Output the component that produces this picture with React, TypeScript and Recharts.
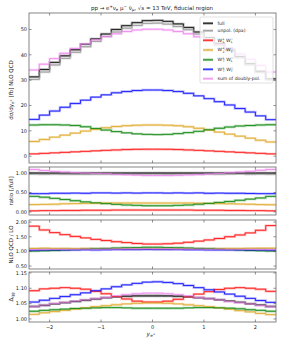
import React from 'react';
import { LineChart, Line, XAxis, YAxis } from 'recharts';

// bin edges in y_e+ (0.2 wide), values are per bin
const binEdges = [-2.4, -2.2, -2.0, -1.8, -1.6, -1.4, -1.2, -1.0, -0.8, -0.6, -0.4, -0.2, 0, 0.2, 0.4, 0.6, 0.8, 1.0, 1.2, 1.4, 1.6, 1.8, 2.0, 2.2, 2.4];
const xTicks = [-2, -1, 0, 1, 2];

// dsigma/dy [fb], NLO QCD
const xsecFull = [31.3, 34.2, 37.0, 39.6, 42.0, 44.2, 46.3, 48.2, 50.0, 51.5, 52.7, 53.5, 53.6, 53.2, 52.2, 50.8, 49.0, 46.8, 44.5, 42.0, 39.3, 36.5, 33.5, 30.5];
const xsecUnpol = [30.3, 33.2, 36.0, 38.6, 41.0, 43.2, 45.3, 47.2, 49.0, 50.5, 51.6, 52.4, 52.5, 52.1, 51.2, 49.9, 48.2, 46.1, 43.8, 41.4, 38.8, 36.0, 33.0, 30.1];
const xsecLL = [0.9, 1.1, 1.3, 1.5, 1.7, 1.9, 2.1, 2.3, 2.45, 2.6, 2.7, 2.75, 2.75, 2.7, 2.6, 2.45, 2.3, 2.1, 1.9, 1.7, 1.5, 1.3, 1.1, 0.9];
const xsecLT = [5.8, 6.6, 7.5, 8.3, 9.1, 9.9, 10.6, 11.2, 11.7, 12.0, 12.2, 12.3, 12.3, 12.2, 12.0, 11.6, 11.0, 10.3, 9.5, 8.7, 7.9, 7.1, 6.3, 5.6];
const xsecTL = [12.3, 12.4, 12.4, 12.3, 12.1, 11.6, 10.9, 10.3, 9.7, 9.2, 8.8, 8.6, 8.5, 8.6, 8.9, 9.3, 9.8, 10.4, 11.0, 11.5, 11.9, 12.1, 12.3, 12.4];
const xsecTT = [14.5, 16.2, 17.8, 19.3, 20.8, 22.1, 23.3, 24.2, 25.0, 25.5, 25.9, 26.1, 26.1, 25.9, 25.5, 24.8, 23.8, 22.7, 21.5, 20.2, 18.8, 17.4, 15.9, 14.4];
const xsecSum = [34.0, 36.3, 38.5, 40.6, 42.5, 44.3, 45.9, 47.2, 48.3, 49.2, 49.8, 50.1, 50.1, 49.8, 49.2, 48.3, 47.1, 45.7, 44.1, 42.3, 40.3, 38.2, 35.8, 33.2];

// ratio to full
const ratioFull = [1, 1, 1, 1, 1, 1, 1, 1, 1, 1, 1, 1, 1, 1, 1, 1, 1, 1, 1, 1, 1, 1, 1, 1];
const ratioUnpol = [0.975, 0.97, 0.975, 0.97, 0.965, 0.965, 0.97, 0.97, 0.965, 0.97, 0.97, 0.975, 0.975, 0.97, 0.975, 0.975, 0.97, 0.975, 0.97, 0.975, 0.98, 0.97, 0.975, 0.97];
const ratioLL = [0.03, 0.035, 0.035, 0.04, 0.04, 0.045, 0.045, 0.045, 0.05, 0.05, 0.05, 0.05, 0.05, 0.05, 0.05, 0.05, 0.045, 0.045, 0.045, 0.04, 0.04, 0.035, 0.035, 0.03];
const ratioLT = [0.19, 0.195, 0.2, 0.21, 0.215, 0.22, 0.225, 0.23, 0.23, 0.23, 0.23, 0.23, 0.23, 0.23, 0.23, 0.23, 0.225, 0.22, 0.215, 0.21, 0.205, 0.2, 0.19, 0.185];
const ratioTL = [0.4, 0.38, 0.35, 0.32, 0.29, 0.26, 0.235, 0.215, 0.195, 0.18, 0.17, 0.16, 0.16, 0.16, 0.17, 0.18, 0.2, 0.22, 0.245, 0.27, 0.3, 0.33, 0.36, 0.4];
const ratioTT = [0.47, 0.47, 0.48, 0.48, 0.485, 0.48, 0.49, 0.49, 0.485, 0.49, 0.485, 0.49, 0.49, 0.485, 0.49, 0.485, 0.49, 0.48, 0.485, 0.48, 0.48, 0.475, 0.47, 0.47];
const ratioSum = [1.09, 1.065, 1.04, 1.025, 1.01, 1.0, 0.99, 0.98, 0.965, 0.955, 0.945, 0.935, 0.935, 0.935, 0.94, 0.95, 0.96, 0.975, 0.99, 1.005, 1.025, 1.045, 1.07, 1.09];

// NLO QCD / LO
const kUnpol = [1.08, 1.085, 1.08, 1.09, 1.085, 1.09, 1.085, 1.09, 1.09, 1.095, 1.09, 1.095, 1.095, 1.09, 1.095, 1.09, 1.09, 1.085, 1.09, 1.085, 1.085, 1.08, 1.085, 1.08];
const kLL = [1.86, 1.73, 1.64, 1.57, 1.51, 1.46, 1.41, 1.37, 1.33, 1.3, 1.27, 1.25, 1.25, 1.26, 1.28, 1.31, 1.35, 1.39, 1.44, 1.5, 1.56, 1.63, 1.72, 1.88];
const kLT = [1.1, 1.11, 1.1, 1.1, 1.095, 1.1, 1.09, 1.09, 1.085, 1.08, 1.08, 1.08, 1.08, 1.08, 1.085, 1.085, 1.09, 1.09, 1.095, 1.1, 1.1, 1.105, 1.11, 1.11];
const kTL = [1.01, 1.02, 1.03, 1.045, 1.06, 1.075, 1.09, 1.1, 1.115, 1.125, 1.13, 1.14, 1.14, 1.13, 1.125, 1.115, 1.1, 1.09, 1.075, 1.06, 1.045, 1.03, 1.02, 1.01];
const kTT = [1.04, 1.045, 1.05, 1.05, 1.05, 1.055, 1.05, 1.055, 1.06, 1.06, 1.06, 1.065, 1.06, 1.06, 1.06, 1.055, 1.055, 1.05, 1.05, 1.05, 1.05, 1.045, 1.045, 1.04];
const kSum = [1.06, 1.065, 1.07, 1.07, 1.07, 1.075, 1.075, 1.08, 1.08, 1.085, 1.085, 1.085, 1.085, 1.085, 1.08, 1.08, 1.08, 1.075, 1.075, 1.07, 1.07, 1.07, 1.065, 1.06];

// Delta_qg
const dFull = [1.04, 1.044, 1.049, 1.053, 1.057, 1.061, 1.065, 1.069, 1.072, 1.074, 1.075, 1.075, 1.075, 1.075, 1.074, 1.072, 1.069, 1.066, 1.062, 1.058, 1.054, 1.049, 1.045, 1.04];
const dUnpol = [1.042, 1.046, 1.05, 1.054, 1.058, 1.062, 1.066, 1.07, 1.073, 1.075, 1.077, 1.077, 1.077, 1.076, 1.075, 1.073, 1.07, 1.067, 1.063, 1.059, 1.055, 1.05, 1.046, 1.042];
const dLL = [1.092, 1.098, 1.1, 1.102, 1.1, 1.097, 1.09, 1.082, 1.073, 1.065, 1.058, 1.055, 1.055, 1.058, 1.064, 1.072, 1.081, 1.089, 1.096, 1.1, 1.102, 1.1, 1.097, 1.09];
const dLT = [1.015, 1.02, 1.024, 1.028, 1.032, 1.036, 1.04, 1.043, 1.046, 1.049, 1.051, 1.052, 1.052, 1.051, 1.049, 1.046, 1.043, 1.04, 1.036, 1.032, 1.027, 1.023, 1.018, 1.014];
const dTL = [1.025, 1.028, 1.03, 1.032, 1.034, 1.035, 1.036, 1.037, 1.037, 1.036, 1.035, 1.035, 1.035, 1.035, 1.035, 1.036, 1.037, 1.037, 1.036, 1.035, 1.033, 1.03, 1.028, 1.025];
const dTT = [1.055, 1.061, 1.067, 1.073, 1.079, 1.085, 1.092, 1.098, 1.105, 1.111, 1.116, 1.12, 1.121, 1.119, 1.115, 1.109, 1.102, 1.095, 1.088, 1.081, 1.074, 1.067, 1.06, 1.054];
const dSum = [1.04, 1.045, 1.05, 1.054, 1.058, 1.062, 1.066, 1.07, 1.075, 1.079, 1.082, 1.084, 1.084, 1.082, 1.079, 1.075, 1.07, 1.066, 1.062, 1.057, 1.053, 1.049, 1.044, 1.04];

const COLORS: Record<string, { line: string; band: string }> = {
  full: { line: '#000000', band: '#7a7a7a' },
  unpol: { line: '#8f8f8f', band: '#c4c4c4' },
  LL: { line: '#ff0000', band: '#ff8a8a' },
  LT: { line: '#daa520', band: '#f0cf85' },
  TL: { line: '#008000', band: '#7fc07f' },
  TT: { line: '#0000ff', band: '#8a8aff' },
  sum: { line: '#ee82ee', band: '#f6bff6' },
};

const FONT = 'DejaVu Sans, sans-serif';
const FRAME = { stroke: '#666', strokeWidth: 0.8 };

const fmtX = (v: number) => (v < 0 ? '\u2212' + Math.abs(v) : String(v));

const BottomTick = (props: any) => {
  const { x, y, payload, show } = props;
  return (
    <g>
      <line x1={x} y1={y} x2={x} y2={y - 2.5} stroke="#444" strokeWidth={0.6} />
      {show && (
        <text x={x} y={y + 7} textAnchor="middle" fontSize={5} fontFamily={FONT} fill="#222">
          {fmtX(payload.value)}
        </text>
      )}
    </g>
  );
};

const TopTick = (props: any) => {
  const { x, y } = props;
  return <line x1={x} y1={y} x2={x} y2={y + 2.5} stroke="#444" strokeWidth={0.6} />;
};

const LeftTick = (props: any) => {
  const { x, y, payload, fmt } = props;
  return (
    <g>
      <line x1={x} y1={y} x2={x + 2.5} y2={y} stroke="#444" strokeWidth={0.6} />
      <text x={x - 2} y={y + 1.8} textAnchor="end" fontSize={5} fontFamily={FONT} fill="#222">
        {fmt(payload.value)}
      </text>
    </g>
  );
};

const RightTick = (props: any) => {
  const { x, y } = props;
  return <line x1={x} y1={y} x2={x - 2.5} y2={y} stroke="#444" strokeWidth={0.6} />;
};

type Series = { key: string; values: number[] };

const Panel = ({ top, height, series, domain, yTicks, fmt, last }: any) => {
  const mt = 4;
  const mb = last ? 19 : 4;
  const data = binEdges.map((x, i) => {
    const row: any = { x };
    (series as Series[]).forEach((s) => {
      row[s.key] = s.values[Math.min(i, s.values.length - 1)];
    });
    return row;
  });
  return (
    <div style={{ position: 'absolute', left: 0, top: top - mt - 1 }}>
      <LineChart width={288} height={height + mt + mb + 2} data={data} margin={{ top: mt, right: 11, bottom: mb, left: 28 }}>
        <XAxis xAxisId="b" dataKey="x" type="number" domain={[-2.4, 2.4]} allowDataOverflow ticks={xTicks} interval={0}
          height={1} tickSize={0} tickMargin={0} tickLine={false} axisLine={false}
          tick={(p: any) => <BottomTick {...p} show={last} />} />
        <XAxis xAxisId="t" orientation="top" dataKey="x" type="number" domain={[-2.4, 2.4]} allowDataOverflow ticks={xTicks} interval={0}
          height={1} tickSize={0} tickMargin={0} tickLine={false} axisLine={false} tick={(p: any) => <TopTick {...p} />} />
        <YAxis yAxisId="l" type="number" domain={domain} allowDataOverflow ticks={yTicks} interval={0}
          width={1} tickSize={0} tickMargin={0} tickLine={false} axisLine={false} tick={(p: any) => <LeftTick {...p} fmt={fmt} />} />
        <YAxis yAxisId="r" orientation="right" type="number" domain={domain} allowDataOverflow ticks={yTicks} interval={0}
          width={1} tickSize={0} tickMargin={0} tickLine={false} axisLine={false} tick={(p: any) => <RightTick {...p} />} />
        {(series as Series[]).map((s) => (
          <Line key={'band-' + s.key} xAxisId="b" yAxisId="l" type="stepAfter" dataKey={s.key} stroke={COLORS[s.key].band}
            strokeWidth={2.4} strokeOpacity={0.6} dot={false} activeDot={false} isAnimationActive={false} />
        ))}
        {(series as Series[]).map((s) => (
          <Line key={'line-' + s.key} xAxisId="b" yAxisId="l" type="stepAfter" dataKey={s.key} stroke={COLORS[s.key].line}
            strokeWidth={0.8} dot={false} activeDot={false} isAnimationActive={false} />
        ))}
      </LineChart>
    </div>
  );
};

const legendEntries = [
  { key: 'full', label: 'full' },
  { key: 'unpol', label: 'unpol. (dpa)' },
  { key: 'LL', pols: ['L', 'L'] },
  { key: 'LT', pols: ['L', 'T'] },
  { key: 'TL', pols: ['T', 'L'] },
  { key: 'TT', pols: ['T', 'T'] },
  { key: 'sum', label: 'sum of doubly-pol.' },
];
const legendY = [23.3, 30.7, 40.3, 50, 59.8, 69.3, 78.7];

const WLabel = ({ x, y, pols }: { x: number; y: number; pols: string[] }) => (
  <text x={x} y={y} fontSize={4.6} fontFamily={FONT} fill="#222">
    W<tspan dy={-1.8} fontSize={3.2}>+</tspan>
    <tspan dx={-1.9} dy={3.2} fontSize={3.2}>{pols[0]}</tspan>
    <tspan dy={-1.4}> W</tspan>
    <tspan dy={-1.8} fontSize={3.2}>{'\u2212'}</tspan>
    <tspan dx={-2.6} dy={3.2} fontSize={3.2}>{pols[1]}</tspan>
  </text>
);

const Overlay = () => (
  <svg width={288} height={342} style={{ position: 'absolute', left: 0, top: 0, pointerEvents: 'none' }}>
    <text x={152} y={9.5} textAnchor="middle" fontSize={5.5} fontFamily={FONT} fill="#222">
      pp {'\u2192'} e<tspan dy={-2} fontSize={4}>+</tspan>
      <tspan dy={2}>{'\u03bd'}</tspan>
      <tspan dy={1.3} fontSize={4}>e</tspan>
      <tspan dy={-1.3}> {'\u03bc'}</tspan>
      <tspan dy={-2} fontSize={4}>{'\u2212'}</tspan>
      <tspan dy={2}> {'\u03bd\u0304'}</tspan>
      <tspan dy={1.3} fontSize={4}>{'\u03bc'}</tspan>
      <tspan dy={-1.3}>, {'\u221a'}s = 13 TeV, fiducial region</tspan>
    </text>

    {/* panel frames */}
    <rect x={29} y={13} width={247} height={150} fill="none" {...FRAME} />
    <rect x={29} y={167} width={247} height={48} fill="none" {...FRAME} />
    <rect x={29} y={220} width={247} height={49} fill="none" {...FRAME} />
    <rect x={29} y={272} width={247} height={50} fill="none" {...FRAME} />

    <g transform="translate(13,90) rotate(-90)">
      <text textAnchor="middle" fontSize={5.5} fontFamily={FONT} fill="#222">
        d{'\u03c3'}/dy<tspan dy={1.2} fontSize={4}>e</tspan>
        <tspan dy={-2.2} fontSize={3.2}>+</tspan>
        <tspan dy={1}> [fb] NLO QCD</tspan>
      </text>
    </g>
    <g transform="translate(13,191) rotate(-90)">
      <text textAnchor="middle" fontSize={5.5} fontFamily={FONT} fill="#222">ratio [/full]</text>
    </g>
    <g transform="translate(13,244.5) rotate(-90)">
      <text textAnchor="middle" fontSize={5.5} fontFamily={FONT} fill="#222">NLO QCD / LO</text>
    </g>
    <g transform="translate(13,297) rotate(-90)">
      <text textAnchor="middle" fontSize={5.5} fontFamily={FONT} fill="#222">
        {'\u0394'}<tspan dy={1.3} fontSize={4}>qg</tspan>
      </text>
    </g>
    <text x={151} y={336} textAnchor="middle" fontSize={6} fontFamily={FONT} fill="#222">
      <tspan fontStyle="italic">y</tspan>
      <tspan dy={1.4} fontSize={4.2}>e</tspan>
      <tspan dy={-2} fontSize={3.2}>+</tspan>
    </text>

    <rect x={200} y={17} width={73} height={66} rx={1.5} fill="#fff" fillOpacity={0.8} stroke="#ccc" strokeWidth={0.6} />
    {legendEntries.map((e, i) => (
      <g key={e.key}>
        <line x1={203} x2={213} y1={legendY[i]} y2={legendY[i]} stroke={COLORS[e.key].band} strokeWidth={2.6} strokeOpacity={0.8} />
        <line x1={203} x2={213} y1={legendY[i]} y2={legendY[i]} stroke={COLORS[e.key].line} strokeWidth={0.8} />
        {e.pols ? (
          <WLabel x={217.5} y={legendY[i] + 1.2} pols={e.pols} />
        ) : (
          <text x={217.5} y={legendY[i] + 1.6} fontSize={4.6} fontFamily={FONT} fill="#222">{e.label}</text>
        )}
      </g>
    ))}
  </svg>
);

const App = () => {
  const fmtInt = (v: number) => String(v);
  const fmt2 = (v: number) => v.toFixed(2);
  return (
    <div style={{ position: 'absolute', left: 0, top: 0, width: 288, height: 342, background: '#fff', fontFamily: FONT }}>
      <Panel top={13} height={150} domain={[-2.7, 56.5]} yTicks={[0, 10, 20, 30, 40, 50]} fmt={fmtInt}
        series={[
          { key: 'full', values: xsecFull },
          { key: 'unpol', values: xsecUnpol },
          { key: 'LL', values: xsecLL },
          { key: 'LT', values: xsecLT },
          { key: 'TL', values: xsecTL },
          { key: 'TT', values: xsecTT },
          { key: 'sum', values: xsecSum },
        ]} />
      <Panel top={167} height={48} domain={[-0.077, 1.154]} yTicks={[0, 0.5, 1]} fmt={fmt2}
        series={[
          { key: 'unpol', values: ratioUnpol },
          { key: 'full', values: ratioFull },
          { key: 'LL', values: ratioLL },
          { key: 'LT', values: ratioLT },
          { key: 'TL', values: ratioTL },
          { key: 'TT', values: ratioTT },
          { key: 'sum', values: ratioSum },
        ]} />
      <Panel top={220} height={49} domain={[0.4, 2.07]} yTicks={[0.5, 1, 1.5, 2]} fmt={fmt2}
        series={[
          { key: 'unpol', values: kUnpol },
          { key: 'LL', values: kLL },
          { key: 'LT', values: kLT },
          { key: 'TL', values: kTL },
          { key: 'TT', values: kTT },
          { key: 'sum', values: kSum },
        ]} />
      <Panel top={272} height={50} domain={[0.99, 1.153]} yTicks={[1, 1.05, 1.1, 1.15]} fmt={fmt2} last
        series={[
          { key: 'unpol', values: dUnpol },
          { key: 'full', values: dFull },
          { key: 'LL', values: dLL },
          { key: 'LT', values: dLT },
          { key: 'TL', values: dTL },
          { key: 'TT', values: dTT },
          { key: 'sum', values: dSum },
        ]} />
      <Overlay />
    </div>
  );
};

export default App;
